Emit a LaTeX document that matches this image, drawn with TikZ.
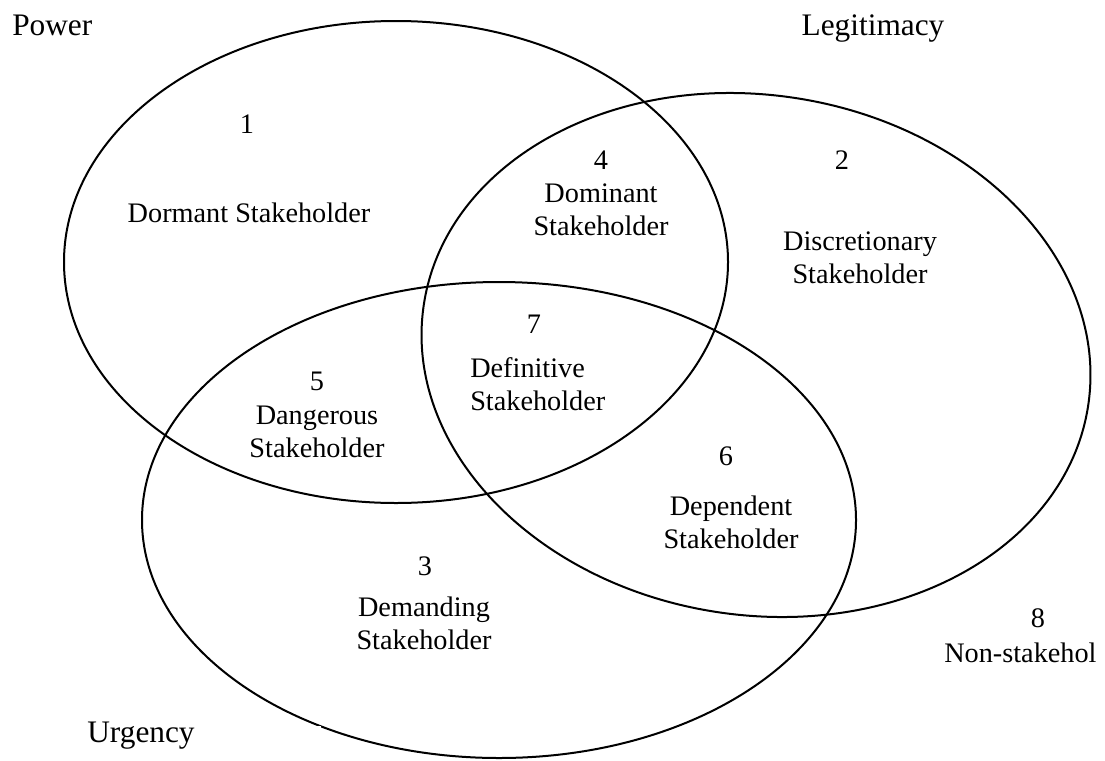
\documentclass[tikz,border=0pt]{standalone}
\usepackage{fontspec}
\setmainfont{Liberation Serif}
\usepackage{tikz}
\usetikzlibrary{positioning}

\begin{document}
\begin{tikzpicture}[x=0.75pt,y=-0.75pt,
  ring/.style={draw=black,line width=1.5pt},
  num/.style={anchor=base,inner sep=0pt,font=\fontsize{21.2}{24.75}\selectfont},
  lbl/.style={anchor=base,inner sep=0pt,align=center,font=\fontsize{21.2}{24.75}\selectfont},
  attr/.style={anchor=base,inner sep=0pt,font=\fontsize{23.5}{28}\selectfont}]
  \useasboundingbox (0,0) rectangle (1105,760);

  % Power, Legitimacy and Urgency
  \draw[ring] (396,262) ellipse [x radius=332, y radius=241];
  \draw[ring,rotate around={-8.7:(756,355)}] (756,355) ellipse [x radius=336, y radius=260];
  \draw[ring] (499,520) ellipse [x radius=357, y radius=238];
  \fill[white] (317,726) rectangle (321,737);

  % Attribute names
  \node[attr,anchor=base west] (power) at (12,35) {Power};
  \node[attr] (legit) at (873,35) {Legitimacy};
  \node[attr] (urgency) at (141,742) {Urgency};

  % Classes (base = last line)
  \node[num] (n1) at (247,133) {1};
  \node[lbl] (dormant) at (249,222) {Dormant Stakeholder};
  \node[num] (n2) at (842,169) {2};
  \node[lbl] (discr) at (860,283) {Discretionary\\Stakeholder};
  \node[num] (n3) at (425,575) {3};
  \node[lbl] (demand) at (424,649) {Demanding\\Stakeholder};
  \node[num] (n4) at (601,169) {4};
  \node[lbl] (domin) at (601,235) {Dominant\\Stakeholder};
  \node[num] (n5) at (317,390) {5};
  \node[lbl] (danger) at (317,457) {Dangerous\\Stakeholder};
  \node[num] (n6) at (726,465) {6};
  \node[lbl] (depend) at (731,548) {Dependent\\Stakeholder};
  \node[num] (n7) at (534,333) {7};
  \node[lbl,align=left,anchor=base west] (defin) at (470,410) {Definitive\\Stakeholder};
  \node[num] (n8) at (1038,627) {8};
  \node[lbl,anchor=base west] (nonst) at (944,662) {Non-stakehol};
\end{tikzpicture}
\end{document}
